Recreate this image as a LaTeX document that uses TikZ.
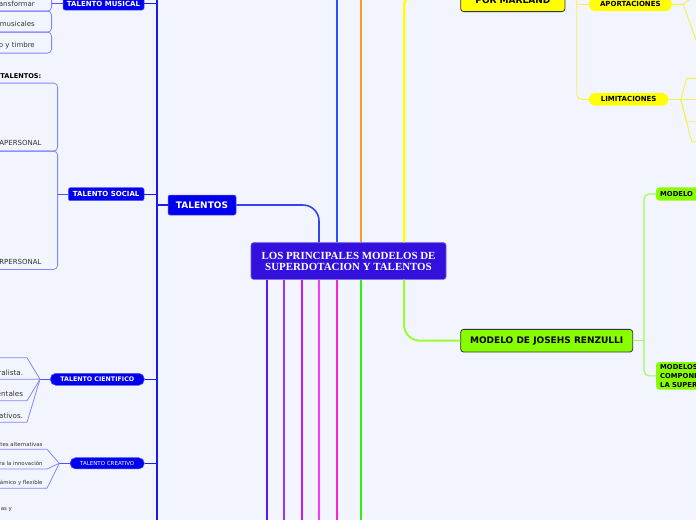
\documentclass[tikz,border=0pt]{standalone}
\usepackage{fontspec}
\setmainfont{DejaVu Sans}
\newfontfamily\cserif{Liberation Serif}
\usetikzlibrary{calc}
\definecolor{bg}{HTML}{F3F5FE}
\definecolor{cfill}{HTML}{3410DC}
\definecolor{tblue}{HTML}{0000EE}
\definecolor{trunkc}{HTML}{1A1AEE}
\definecolor{talc}{HTML}{3344EE}
\definecolor{subc}{HTML}{8484FF}
\definecolor{subd}{HTML}{5050FF}
\definecolor{lblue}{HTML}{2255FF}
\definecolor{lorange}{HTML}{FF9922}
\definecolor{lyellow}{HTML}{FFFF00}
\definecolor{ysubc}{HTML}{F2F247}
\definecolor{yfill}{HTML}{FFFF00}
\definecolor{lfill}{HTML}{88FF00}
\definecolor{limel}{HTML}{99FF33}
\definecolor{lsubc}{HTML}{A4F85A}
\definecolor{va}{HTML}{5A18EE}
\definecolor{vb}{HTML}{9933FF}
\definecolor{vc}{HTML}{CC11FF}
\definecolor{vd}{HTML}{FF33FF}
\definecolor{ve}{HTML}{FF22CC}
\definecolor{gr}{HTML}{33EE11}
\definecolor{txt}{HTML}{333333}
\definecolor{dark}{HTML}{333333}
\begin{document}
\begin{tikzpicture}[x=1pt,y=-1pt,
  central/.style={fill=cfill, draw=cfill!70!white, line width=0.6pt, rounded corners=2.5pt, text=white, align=center, minimum width=195pt, minimum height=36.6pt, inner sep=0pt, font=\cserif\bfseries\fontsize{10.9}{11}\selectfont},
  mainline/.style={line width=2.3pt},
  bluebox/.style={fill=tblue, draw=tblue!65!white, line width=0.5pt, text=white, rounded corners=2pt, inner sep=0pt, font=\bfseries\fontsize{7}{8}\selectfont},
  bluepill/.style={bluebox, rounded corners=5.5pt},
  conn/.style={draw=trunkc, line width=1.1pt},
  subbox/.style={draw=subc, line width=0.8pt, rounded corners=4pt, inner sep=0pt},
  subline/.style={draw=subc, line width=0.8pt},
  subline2/.style={draw=subd, line width=0.9pt},
  subtxt/.style={text=txt, inner sep=0pt, anchor=east, font=\fontsize{7}{8}\selectfont},
  ymain/.style={fill=yfill, draw=dark, line width=0.8pt, rounded corners=3pt, font=\bfseries\fontsize{9}{10}\selectfont, text=black, inner xsep=0pt},
  ypill/.style={fill=yfill, rounded corners=6pt, font=\bfseries\fontsize{7}{8}\selectfont, text=black, inner sep=0pt},
  ysub/.style={draw=ysubc, line width=0.9pt},
  lbox/.style={fill=lfill, draw=dark, line width=0.8pt, rounded corners=3pt, font=\bfseries\fontsize{9}{10}\selectfont, text=black, inner sep=0pt},
  lpill/.style={fill=lfill, rounded corners=3pt, font=\bfseries\fontsize{6.8}{8.7}\selectfont, text=black},
  lsub/.style={draw=lsubc, line width=1.2pt}
]
\useasboundingbox (0,0) rectangle (696,520);
\fill[bg] (0,0) rectangle (696,520);
\clip (0,0) rectangle (696,520);

% ---------- central node ----------
\node[central] (c) at (348.5,261) {LOS PRINCIPALES MODELOS DE\\SUPERDOTACION Y TALENTOS};

% top lines
\coordinate (t1) at (336.7,0);
\coordinate (t2) at (361,0);
\draw[mainline, lblue] (t1 |- c.north) -- (t1);
\draw[mainline, lorange] (t2 |- c.north) -- (t2);

% bottom lines
\coordinate (b1) at (267.3,520);
\coordinate (b2) at (284.3,520);
\coordinate (b3) at (301.7,520);
\coordinate (b4) at (319,520);
\coordinate (b5) at (336.7,520);
\coordinate (b6) at (361.3,520);
\draw[mainline, va] (b1 |- c.south) -- (b1);
\draw[mainline, vb] (b2 |- c.south) -- (b2);
\draw[mainline, vc] (b3 |- c.south) -- (b3);
\draw[mainline, vd] (b4 |- c.south) -- (b4);
\draw[mainline, ve] (b5 |- c.south) -- (b5);
\draw[mainline, gr] (b6 |- c.south) -- (b6);

% ---------- TALENTOS ----------
\node[bluebox, font=\bfseries\fontsize{9}{10}\selectfont, minimum width=68pt, minimum height=20pt] (tal) at (202,205) {TALENTOS};
\coordinate (t3) at (319,0);
\draw[line width=1.6pt, talc, rounded corners=16pt] (tal.east) -| (t3 |- c.north);

% trunk
\coordinate (trT) at (157,0);
\coordinate (trB) at (157,520);
\draw[line width=2pt, trunkc] (trT) -- (trB);
\draw[conn] (tal.west) -- (tal.west -| trT);

% TALENTO MUSICAL
\node[bluebox, minimum width=81pt, minimum height=13pt] (mus) at (103.5,3.5) {TALENTO MUSICAL};
\draw[conn] (mus.east) -- (mus.east -| trT);
\node[subbox, minimum width=90pt, minimum height=21pt, anchor=north east] (m1) at (52,-10.3) {};
\node[subbox, minimum width=90pt, minimum height=21pt, anchor=north east] (m2) at (52,10.7) {};
\node[subbox, minimum width=90pt, minimum height=21pt, anchor=north east] (m3) at (52,31.7) {};
\draw[subline2] (mus.west) -- (mus.west -| m1.east);
\node[subtxt] (m1t) at (35,4.3) {ansformar};
\node[subtxt] (m2t) at (35,24.3) {musicales};
\node[subtxt] (m3t) at (35,46) {o y timbre};

\node[inner sep=0pt, anchor=east, font=\bfseries\fontsize{6.6}{7.5}\selectfont] (tl) at (41.5,75.7) {TALENTOS:};

% TALENTO SOCIAL
\node[bluebox, minimum width=75.7pt, minimum height=13pt] (soc) at (106.2,194.2) {TALENTO SOCIAL};
\draw[conn] (soc.east) -- (soc.east -| trT);
\node[subbox, minimum width=100pt, minimum height=68pt, anchor=north east] (s1) at (58,82.7) {};
\node[subbox, minimum width=100pt, minimum height=118.3pt, anchor=north east] (s2) at (58,150.7) {};
\draw[subline2] (soc.west) -- (soc.west -| s2.east);
\node[subtxt] (s1t) at (41.7,143.3) {APERSONAL};
\node[subtxt] (s2t) at (41.7,262) {RPERSONAL};

% TALENTO CIENTIFICO
\node[bluepill, font=\bfseries\fontsize{6.3}{7}\selectfont, minimum width=94pt, minimum height=12pt] (cie) at (97.3,379.3) {TALENTO CIENTIFICO};
\draw[conn] (cie.east) -- (cie.east -| trT);
\coordinate (f1) at (40,379.3);
\coordinate (c0) at (0,357.7);
\coordinate (c1) at (0,379.3);
\coordinate (c2) at (0,400.7);
\coordinate (c3) at (0,422.3);
\draw[subline2] (cie.west) -- (f1);
\draw[subline] (c0) -- (27,357.7) -- (f1) -- (c1);
\draw[subline] (f1) -- (27,400.7) -- (c2);
\draw[subline] (f1) -- (27,422.3) -- (c3);
\node[subtxt, font=\fontsize{7.2}{8}\selectfont] (c1t) at (23.3,372.7) {ralista.};
\node[subtxt, font=\fontsize{7.2}{8}\selectfont] (c2t) at (23.3,394.3) {entales};
\node[subtxt, font=\fontsize{7.2}{8}\selectfont] (c3t) at (23.3,415.7) {ativos.};

% TALENTO CREATIVO
\node[bluepill, font=\fontsize{5.5}{6.5}\selectfont, minimum width=74.3pt, minimum height=11.3pt] (cre) at (107.2,463.3) {TALENTO CREATIVO};
\draw[conn] (cre.east) -- (cre.east -| trT);
\coordinate (f2) at (59.3,463.3);
\coordinate (r1) at (0,449.3);
\coordinate (r2) at (0,469);
\coordinate (r3) at (0,488.3);
\draw[subline2] (cre.west) -- (f2);
\draw[subline] (r1) -- (47,449.3) -- (f2);
\draw[subline] (f2) -- (47,469) -- (r2);
\draw[subline] (f2) -- (47,488.3) -- (r3);
\node[subtxt, font=\fontsize{5.4}{6.5}\selectfont] (r1t) at (42.7,444) {tes alternativas};
\node[subtxt, font=\fontsize{5.4}{6.5}\selectfont] (r2t) at (42.7,463) {ra la innovación};
\node[subtxt, font=\fontsize{5.4}{6.5}\selectfont] (r3t) at (42.7,482.7) {ámico y flexible};
\node[subtxt, font=\fontsize{5.4}{6.5}\selectfont] (byt) at (12,510) {as y};

% ---------- right: MARLAND ----------
\node[ymain, minimum width=104.3pt, text height=16pt, text depth=2pt, inner ysep=6pt, anchor=south] (mar) at (512.85,12) {POR MARLAND};
\coordinate (t4) at (404.3,0);
\draw[mainline, lyellow, rounded corners=8pt] (t4 |- c.north) |- (mar.west);

\node[ypill, minimum width=82.7pt, minimum height=13.5pt] (apo) at (630.35,4.3) {APORTACIONES};
\node[ypill, minimum width=79.3pt, minimum height=12.4pt] (lim) at (628.65,99.4) {LIMITACIONES};
\coordinate (yb) at (576.7,-3);
\draw[ysub, rounded corners=5pt] (mar.east) -- (yb) |- (lim.west);
\draw[ysub] (yb |- apo.west) -- (apo.west);

\coordinate (af) at (683.3,4.3);
\coordinate (af1) at (690,-1);
\coordinate (af2) at (698,45.6);
\draw[ysub] (apo.east) -- (af) -- (af1);
\draw[ysub] (af) -- (af2);
\coordinate (lf) at (680.7,99.4);
\coordinate (lf1) at (700,78.3);
\coordinate (lf2) at (700,99.4);
\coordinate (lf3) at (700,121.7);
\coordinate (lf4) at (700,141.7);
\draw[ysub] (lim.east) -- (lf) -- (lf2);
\draw[ysub] (lf) -- (686.7,78.3) -- (lf1);
\draw[ysub] (lf) -- (686.7,121.7) -- (lf3);
\draw[ysub] (lf) -- (691.7,141.7) -- (lf4);

% ---------- right: RENZULLI ----------
\node[lbox, minimum width=172pt, minimum height=22.7pt] (ren) at (546.7,340.7) {MODELO DE JOSEHS RENZULLI};
\coordinate (t5) at (404,520);
\draw[line width=2pt, limel, rounded corners=16pt] (t5 |- c.south) |- (ren.west);

\node[lpill, anchor=west, text width=52pt, inner xsep=4pt, minimum height=13.4pt, align=left] (mod) at (656,194) {MODELO};
\node[lpill, anchor=west, text width=52pt, inner xsep=4pt, inner ysep=2.5pt, align=left] (mods) at (656,375.85) {MODELOS\\COMPONE\\LA SUPER};
\coordinate (rb) at (644,340.7);
\draw[lsub, rounded corners=5pt] (mod.west) -| (rb) |- (mods.west);
\draw[lsub] (ren.east) -- (rb);
\end{tikzpicture}
\end{document}
